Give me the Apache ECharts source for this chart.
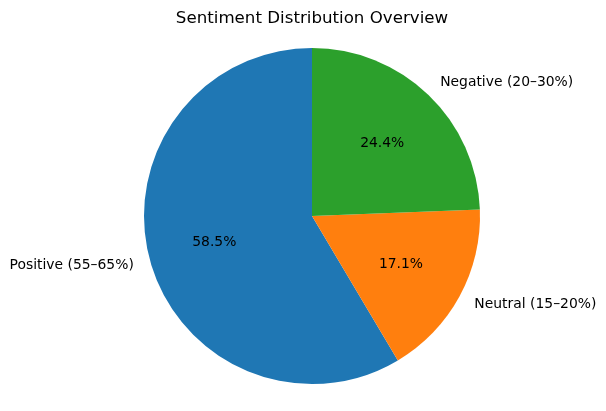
<!DOCTYPE html>
<html>
<head>
<meta charset="utf-8">
<script src="https://cdn.jsdelivr.net/npm/echarts@6/dist/echarts.min.js"></script>
<style>html,body{margin:0;padding:0;background:#fff}#c{width:606px;height:411px}</style>
</head>
<body>
<div id="c"></div>
<script>
const categories = ['Positive (55–65%)', 'Neutral (15–20%)', 'Negative (20–30%)'];
const values = [60, 17.5, 25];
const colors = ['#1f77b4', '#ff7f0e', '#2ca02c'];
const titleText = 'Sentiment Distribution Overview';

const total = values.reduce((a, b) => a + b, 0);
const data = categories.map((c, i) => ({ name: c, value: values[i], itemStyle: { color: colors[i] } }));
const font = 'DejaVu Sans';
const R = 168;
const rIn = 98.3;

const chart = echarts.init(document.getElementById('c'), null, { renderer: 'canvas' });
chart.setOption({
  animation: false,
  backgroundColor: '#fff',
  title: {
    text: titleText, left: 312, top: 10, textAlign: 'center', padding: 0,
    textStyle: { fontFamily: font, fontSize: 16.67, fontWeight: 'normal', color: '#000' }
  },
  series: [
    {
      type: 'pie', center: [312, 216], radius: [0, R], startAngle: 90, clockwise: false,
      avoidLabelOverlap: false, silent: true,
      data: data,
      itemStyle: { borderWidth: 0 },
      label: {
        show: true, position: 'outside', formatter: '{b}', distanceToLabelLine: 0,
        padding: [4, 0, 0, 0],
        fontFamily: font, fontSize: 13.9, color: '#000'
      },
      labelLine: { show: false, length: R * 0.1, length2: 0 }
    },
    {
      type: 'pie', center: [312, 216], radius: [rIn - 0.5, rIn + 0.5], startAngle: 90, clockwise: false,
      avoidLabelOverlap: false, silent: true,
      data: categories.map((c, i) => ({ name: c, value: values[i] })),
      itemStyle: { color: 'rgba(0,0,0,0)', borderWidth: 0 },
      label: {
        show: true, position: 'inside',
        padding: [3, 0, 0, 0],
        formatter: p => (p.value / total * 100).toFixed(1) + '%',
        fontFamily: font, fontSize: 13.9, color: '#000'
      },
      labelLine: { show: false }
    }
  ]
});
</script>
</body>
</html>
